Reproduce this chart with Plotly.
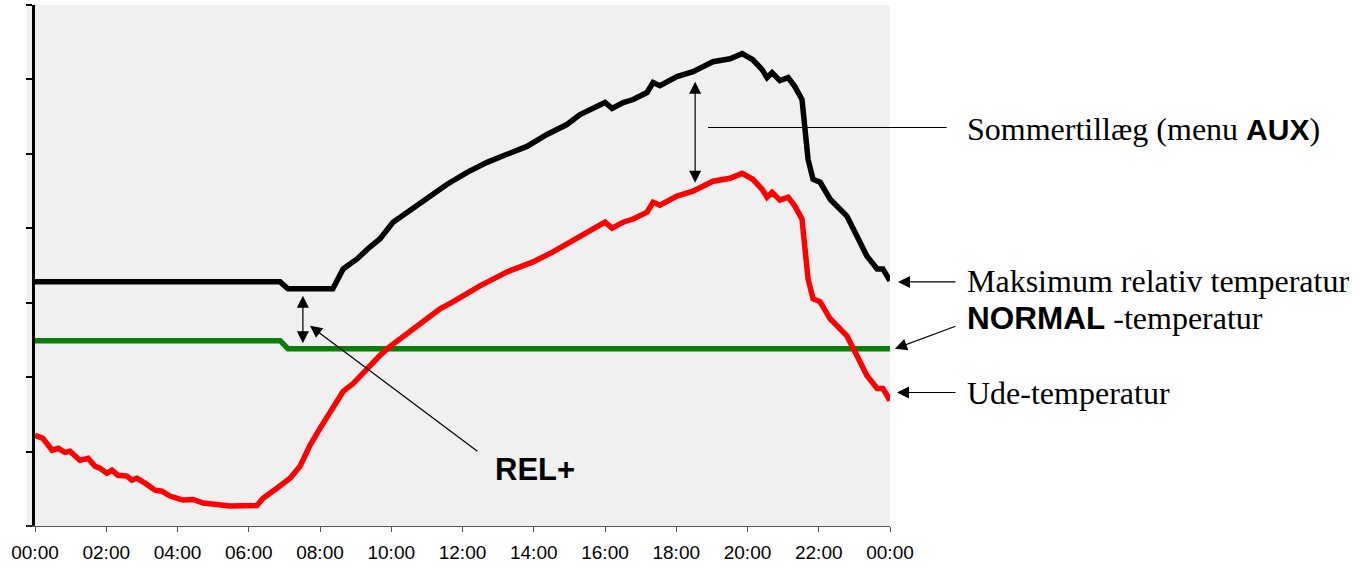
import plotly.graph_objects as go

# ---------------- data ----------------
tick_hours = [0, 2, 4, 6, 8, 10, 12, 14, 16, 18, 20, 22, 24]
tick_labels = ["00:00", "02:00", "04:00", "06:00", "08:00", "10:00", "12:00",
               "14:00", "16:00", "18:00", "20:00", "22:00", "00:00"]

ude_hours = [0.0, 0.22, 0.48, 0.65, 0.84, 0.98, 1.26, 1.49, 1.68, 1.82, 2.02, 2.16,
             2.33, 2.58, 2.72, 2.86, 3.09, 3.37, 3.56, 3.79, 4.15, 4.44, 4.72, 5.11,
             5.47, 6.23, 6.40, 6.79, 7.16, 7.44, 7.72, 8.00, 8.36, 8.65, 8.93, 9.32,
             9.68, 9.96, 10.44, 10.81, 11.37, 11.73, 12.49, 13.25, 13.98, 14.54, 14.93,
             15.49, 15.86, 16.00, 16.20, 16.51, 16.79, 17.18, 17.35, 17.54, 18.02, 18.47,
             19.03, 19.51, 19.85, 20.15, 20.41, 20.55, 20.69, 20.91, 21.14, 21.33, 21.53,
             21.61, 21.70, 21.84, 22.04, 22.32, 22.79, 23.07, 23.35, 23.64, 23.80, 24.00]
ude_temp = [-3.91, -4.11, -4.91, -4.78, -5.05, -4.98, -5.58, -5.45, -5.98, -6.12, -6.45, -6.25,
            -6.59, -6.65, -6.92, -6.79, -7.12, -7.59, -7.66, -7.99, -8.26, -8.22, -8.46, -8.53,
            -8.66, -8.62, -8.13, -7.46, -6.79, -5.98, -4.58, -3.44, -2.10, -0.96, -0.43, 0.58,
            1.45, 2.05, 2.92, 3.59, 4.59, 5.06, 6.13, 7.07, 7.74, 8.41, 8.94,
            9.75, 10.15, 10.41, 10.01, 10.41, 10.62, 11.08, 11.75, 11.55, 12.16, 12.49,
            13.16, 13.36, 13.69, 13.29, 12.62, 12.09, 12.42, 11.89, 12.09, 11.49, 10.62,
            8.61, 6.60, 5.26, 5.06, 3.92, 2.78, 1.45, 0.11, -0.76, -0.76, -1.57]

max_hours = [0.0, 6.88, 7.10, 8.36, 8.65, 9.04, 9.40, 9.68, 10.05, 10.44, 10.81, 11.57,
             12.13, 12.69, 13.25, 13.81, 14.37, 14.93, 15.30, 15.66, 16.00, 16.20, 16.51,
             16.79, 17.18, 17.35, 17.54, 18.02, 18.47, 19.03, 19.51, 19.85, 20.15, 20.41,
             20.55, 20.69, 20.91, 21.14, 21.33, 21.53, 21.61, 21.70, 21.84, 22.04, 22.32,
             22.79, 23.07, 23.35, 23.64, 23.80, 24.00]
max_temp = [6.40, 6.40, 5.93, 5.93, 7.27, 7.94, 8.74, 9.28, 10.41, 11.08, 11.75, 12.96,
            13.76, 14.43, 14.97, 15.50, 16.30, 16.97, 17.64, 18.11, 18.45, 18.05, 18.45,
            18.65, 19.12, 19.79, 19.58, 20.19, 20.52, 21.19, 21.39, 21.73, 21.32, 20.66,
            20.12, 20.45, 19.92, 20.12, 19.52, 18.65, 16.64, 14.63, 13.29, 13.09, 11.95,
            10.82, 9.48, 8.14, 7.27, 7.27, 6.47]

normal_hours = [0.0, 6.88, 7.10, 24.0]
normal_temp = [2.45, 2.45, 1.91, 1.91]

# ---------------- figure ----------------
W, H = 1367, 568
ML, MR, MT, MB = 35, 477, 5, 40
PW = W - ML - MR
PH = H - MT - MB
BG = "#f0f0f0"
SERIF = "Liberation Serif, Times New Roman, serif"
SANS = "Liberation Sans, Arial, sans-serif"


def px_x(p):
    return (p - ML) / PW


def px_y(p):
    return (H - MB - p) / PH


fig = go.Figure()
fig.add_trace(go.Scatter(x=normal_hours, y=normal_temp, mode="lines",
                         line=dict(color="#0a7d0a", width=5.5), hoverinfo="skip"))
fig.add_trace(go.Scatter(x=ude_hours, y=ude_temp, mode="lines",
                         line=dict(color="#ff0000", width=5.5), hoverinfo="skip"))
fig.add_trace(go.Scatter(x=max_hours, y=max_temp, mode="lines",
                         line=dict(color="#000000", width=5.5), hoverinfo="skip"))

fig.update_layout(
    width=W, height=H, showlegend=False,
    margin=dict(l=ML, r=MR, t=MT, b=MB, pad=0),
    paper_bgcolor="white", plot_bgcolor=BG,
    xaxis=dict(range=[0, 24], tickvals=tick_hours, ticktext=tick_labels,
               showgrid=False, zeroline=False, showline=True, linecolor="#555555",
               linewidth=1, ticks="outside", ticklen=5, tickcolor="#555555",
               ticklabelstandoff=4,
               tickfont=dict(family=SANS, size=19, color="black")),
    yaxis=dict(range=[-10, 25], dtick=5, tick0=-10, showgrid=False, zeroline=False,
               showline=True, linecolor="black", linewidth=3, ticks="outside",
               ticklen=6, tickwidth=2, tickcolor="black", showticklabels=False),
)

# gray strip left of the y axis and x-axis line extension
fig.add_shape(type="rect", xref="paper", yref="paper", x0=-8 / PW, x1=0, y0=0, y1=1,
              fillcolor=BG, line=dict(width=0), layer="below")
fig.add_shape(type="line", xref="paper", yref="paper", x0=-8 / PW, x1=0, y0=0, y1=0,
              line=dict(color="#555555", width=1))

ARROW = dict(text="", showarrow=True, arrowsize=2.0, arrowwidth=1.2, arrowcolor="black",
             standoff=0, startstandoff=0, startarrowsize=2.0)


def arrow(x, y, ax, ay, both=False, head=2):
    fig.add_annotation(x=x, y=y, ax=ax, ay=ay, xref="x", yref="y", axref="x", ayref="y",
                       arrowhead=head, startarrowhead=head,
                       arrowside="end+start" if both else "end", **ARROW)


def arrow_px(hx, hy, tx, ty):
    fig.add_annotation(x=px_x(hx), y=px_y(hy), ax=tx - hx, ay=ty - hy,
                       xref="paper", yref="paper", axref="pixel", ayref="pixel",
                       arrowhead=2, **ARROW)


# REL+ double arrow and pointer
arrow(7.52, 5.46, 7.52, 2.18, both=True)
arrow(7.72, 3.45, 12.46, -5.05)
# Sommertillæg double arrow and line
arrow(18.53, 19.85, 18.53, 12.96, both=True)
arrow(18.89, 16.77, 25.63, 16.77, head=0)
# right-side pointers
arrow_px(898, 283, 957, 283)
arrow_px(895, 350, 957, 327)
arrow_px(897, 394, 957, 394)


def label(py, txt):
    fig.add_annotation(x=px_x(965), y=px_y(py), xref="paper", yref="paper", text=txt,
                       showarrow=False, xanchor="left", yanchor="middle",
                       font=dict(family=SERIF, size=32, color="black"))


bold30 = '<span style="font-family:Liberation Sans, Arial;font-weight:bold;font-size:30px">{}</span>'
bold31 = '<span style="font-family:Liberation Sans, Arial;font-weight:bold;font-size:31.5px">{}</span>'
label(129, "Sommertillæg (menu " + bold30.format("AUX") + ")")
label(282, "Maksimum relativ temperatur")
label(319, bold31.format("NORMAL") + " -temperatur")
label(394, "Ude-temperatur")
fig.add_annotation(x=12.85, y=-6.18, xref="x", yref="y", text="<b>REL+</b>",
                   showarrow=False, xanchor="left", yanchor="middle",
                   font=dict(family=SANS, size=31, color="black"))

fig.write_html("out.html", config={"displayModeBar": False},
               post_script="document.body.style.margin='0px';")
